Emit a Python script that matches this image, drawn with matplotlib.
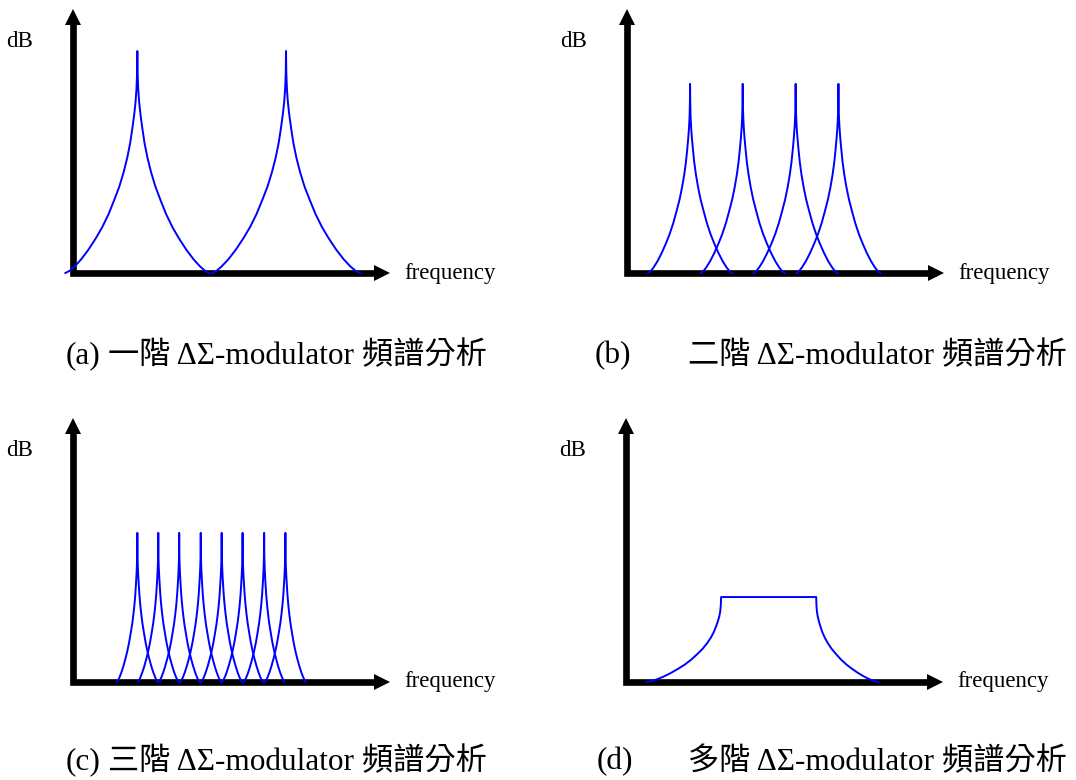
"""Espectros esquemáticos de moduladores ΔΣ (1ª, 2ª, 3ª ordem e multi-ordem)."""

import matplotlib

matplotlib.use("Agg")
import matplotlib.pyplot as plt  # noqa: E402

W, H = 1076, 780
AZUL = "#0000ff"
FONTE_LATINA = ["Liberation Serif", "Noto Sans CJK TC"]

# Perfil normalizado de um flanco de pico: distância ao centro -> altura relativa.
PERFIL_D = [0.0, 0.004, 0.012, 0.025, 0.045, 0.07, 0.10, 0.14, 0.19, 0.25,
            0.32, 0.40, 0.49, 0.58, 0.68, 0.78, 0.87, 0.94, 1.0]
PERFIL_H = [1.0, 0.90, 0.83, 0.77, 0.71, 0.65, 0.585, 0.52, 0.455, 0.39,
            0.33, 0.265, 0.205, 0.155, 0.105, 0.062, 0.03, 0.01, 0.0]

# (a) 1ª ordem: centros, meia-largura e altura (eixos 0..10)
A_CENTROS = [2.03, 6.72]
A_MEIA_LARG = [2.27, 2.33]
A_ALTURA = 8.44

# (b) 2ª ordem
B_CENTROS = [1.99, 3.65, 5.32, 6.67]
B_MEIA_LARG = [1.32, 1.32, 1.32, 1.32]
B_ALTURA = 7.19

# (c) 3ª ordem
C_CENTROS = [2.03, 2.69, 3.35, 4.03, 4.69, 5.35, 6.03, 6.70]
C_MEIA_LARG = [0.65] * 8
C_ALTURA = 5.67

# (d) multi-ordem: patamar plano com flancos
D_PATAMAR = [3.0, 6.0]
D_LARG_ESQ = 2.34
D_LARG_DIR = 1.95
D_ALTURA = 3.23

ROTULOS = ["(a)", "(b)", "(c)", "(d)"]
LEGENDAS = ["一階 ΔΣ-modulator 頻譜分析", "二階 ΔΣ-modulator 頻譜分析",
            "三階 ΔΣ-modulator 頻譜分析", "多階 ΔΣ-modulator 頻譜分析"]

# origem (canto dos eixos) de cada painel, em pixels
ORIGENS = [(73, 273), (627, 273), (73, 682), (626, 682)]
LARG_PX, ALT_PX = 317, 263


def pico(centro, meia, altura):
    xs = [centro - d * meia for d in reversed(PERFIL_D)] + [centro + d * meia for d in PERFIL_D[1:]]
    ys = [h * altura for h in reversed(PERFIL_H)] + [h * altura for h in PERFIL_H[1:]]
    return xs, ys


def eixos(fig, origem):
    x0, y0 = origem
    ax = fig.add_axes([x0 / W, 1 - y0 / H, LARG_PX / W, ALT_PX / H])
    ax.set_xlim(0, 10)
    ax.set_ylim(0, 10)
    ax.axis("off")
    # setas dos eixos
    ax.plot([0, 0, 9.75], [9.72, 0, 0], color="black", lw=4.8,
            solid_joinstyle="miter", solid_capstyle="butt", clip_on=False, zorder=1)
    ax.plot([0], [9.72], marker="^", ms=11.5, color="black", mew=0, clip_on=False)
    ax.plot([9.75], [0], marker=">", ms=11.5, color="black", mew=0, clip_on=False)
    ax.text(-1.68, 8.8, "dB", family=FONTE_LATINA, fontsize=16.5, ha="center", va="center")
    ax.text(10.46, 0, "frequency", family=FONTE_LATINA, fontsize=16.5, ha="left", va="center")
    return ax


def main():
    fig = plt.figure(figsize=(W / 100, H / 100), dpi=100)
    axs = [eixos(fig, o) for o in ORIGENS]

    for c, m in zip(A_CENTROS, A_MEIA_LARG):
        axs[0].plot(*pico(c, m, A_ALTURA), color=AZUL, lw=1.4, clip_on=False, zorder=2)
    for c, m in zip(B_CENTROS, B_MEIA_LARG):
        axs[1].plot(*pico(c, m, B_ALTURA), color=AZUL, lw=1.4, clip_on=False, zorder=2)
    for c, m in zip(C_CENTROS, C_MEIA_LARG):
        axs[2].plot(*pico(c, m, C_ALTURA), color=AZUL, lw=1.4, clip_on=False, zorder=2)

    xe, xd = D_PATAMAR
    xs = [xe - d * D_LARG_ESQ for d in reversed(PERFIL_D)] + [xd + d * D_LARG_DIR for d in PERFIL_D]
    ys = [h * D_ALTURA for h in reversed(PERFIL_H)] + [h * D_ALTURA for h in PERFIL_H]
    axs[3].plot(xs, ys, color=AZUL, lw=1.4, clip_on=False, zorder=2)

    # legendas abaixo de cada painel
    pos_rot = [(66, 356), (595, 356), (66, 762), (597, 762)]
    pos_txt = [(108, 356), (688, 356), (108, 762), (688, 762)]
    for rot, txt, (xr, yr), (xt, yt) in zip(ROTULOS, LEGENDAS, pos_rot, pos_txt):
        fig.text(xr / W, 1 - yr / H, rot, family=FONTE_LATINA, fontsize=22.5, va="center")
        fig.text(xt / W, 1 - yt / H, txt, family=FONTE_LATINA, fontsize=22.5, va="center")

    fig.savefig("out.png", dpi=100)


if __name__ == "__main__":
    main()
